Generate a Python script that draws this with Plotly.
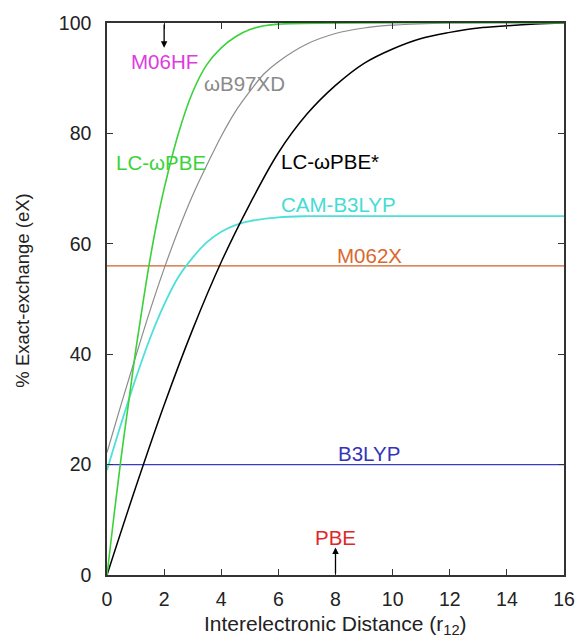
import plotly.graph_objects as go

# ---- data ----
lc_wpbe_x = [0, 0.25, 0.5, 0.75, 1, 1.25, 1.5, 1.75, 2, 2.5, 3, 3.5, 4, 4.5, 5, 5.5, 6, 16]
lc_wpbe_y = [0, 11, 21.5, 31, 40.5, 49, 57, 64, 70, 80, 87.5, 92.5, 95.5, 97.5, 98.8, 99.5, 99.8, 100]

wb97xd_x = [0, 0.5, 1, 1.5, 2, 2.5, 3, 3.5, 4, 4.5, 5, 5.5, 6, 7, 8, 9, 10, 12, 16]
wb97xd_y = [22.2, 31, 39.5, 47.8, 55.5, 62.5, 68.8, 74.3, 79.5, 84, 87.6, 90.8, 93, 96.2, 98.1, 99.1, 99.6, 100, 100]

lc_wpbe_star_x = [0, 1, 2, 3, 4, 5, 6, 7, 8, 9, 10, 11, 12, 13, 14, 15, 16]
lc_wpbe_star_y = [0, 15.8, 30.8, 44.5, 56.7, 67.2, 76.5, 83.5, 88.7, 92.7, 95.3, 97.2, 98.3, 99.1, 99.5, 99.8, 100]

cam_b3lyp_x = [0, 0.5, 1, 1.5, 2, 2.5, 3, 3.5, 4, 4.5, 5, 6, 7, 8, 16]
cam_b3lyp_y = [19, 27.5, 35.5, 42.8, 49, 54, 57.5, 60.3, 62.2, 63.4, 64.1, 64.8, 65, 65, 65]

m062x_x = [0, 16]
m062x_y = [56, 56]

b3lyp_x = [0, 16]
b3lyp_y = [20, 20]

# labels: text, x, y, colour
label_text = ["M06HF", "ωB97XD", "LC-ωPBE", "LC-ωPBE*", "CAM-B3LYP", "M062X", "B3LYP", "PBE"]
label_x = [2.0, 4.83, 1.9, 7.8, 8.1, 9.2, 9.16, 8.0]
label_y = [93, 89, 74.8, 74.9, 67.1, 57.8, 22, 6.8]
label_col = ["#e03ae0", "#8a8a8a", "#3cd23c", "#000000", "#45dcd5", "#d9692e", "#3434b8", "#e02828"]

# arrows: (head x, head y, tail y)
m06hf_arrow = (2, 95.5, 100)
pbe_arrow = (8, 5, 0)

x_ticks = [0, 2, 4, 6, 8, 10, 12, 14, 16]
y_ticks = [0, 20, 40, 60, 80, 100]

FONT = "Liberation Sans, Arial, sans-serif"

fig = go.Figure()

def add_line(x, y, color, width, shape="spline"):
    fig.add_trace(go.Scatter(x=x, y=y, mode="lines",
                             line=dict(color=color, width=width, shape=shape),
                             showlegend=False, hoverinfo="skip"))

add_line(m062x_x, m062x_y, "#d2602a", 1.3, "linear")
add_line(b3lyp_x, b3lyp_y, "#3a3ac8", 1.3, "linear")
add_line(cam_b3lyp_x, cam_b3lyp_y, "#4ee0d8", 1.8)
add_line(wb97xd_x, wb97xd_y, "#8c8c8c", 1.2)
add_line(lc_wpbe_star_x, lc_wpbe_star_y, "#000000", 1.5)
add_line(lc_wpbe_x, lc_wpbe_y, "#3ad13a", 1.6)

annotations = []
for t, x, y, c in zip(label_text, label_x, label_y, label_col):
    annotations.append(dict(x=x, y=y, xref="x", yref="y", text=t, showarrow=False,
                            font=dict(family=FONT, size=20.5, color=c),
                            xanchor="center", yanchor="middle"))

for hx, hy, ty in (m06hf_arrow, pbe_arrow):
    annotations.append(dict(x=hx, y=hy, ax=hx, ay=ty, xref="x", yref="y",
                            axref="x", ayref="y", text="", showarrow=True,
                            arrowhead=2, arrowsize=1, arrowwidth=1.3,
                            arrowcolor="#000000"))

annotations.append(dict(x=0.501, y=-0.09, xref="paper", yref="paper",
                        text="Interelectronic Distance (r<sub>12</sub>)",
                        showarrow=False, xanchor="center", yanchor="middle",
                        font=dict(family=FONT, size=21, color="#222222")))
annotations.append(dict(x=-0.184, y=0.515, xref="paper", yref="paper",
                        text="% Exact-exchange (eX)", textangle=-90,
                        showarrow=False, xanchor="center", yanchor="middle",
                        font=dict(family=FONT, size=18.5, color="#222222")))

axis_common = dict(showgrid=False, zeroline=False, showline=True, mirror="ticks",
                   linecolor="#333333", linewidth=1.5, ticks="inside", ticklen=6,
                   tickwidth=1.2, tickcolor="#333333",
                   tickfont=dict(family=FONT, size=19.5, color="#222222"))

fig.update_layout(
    width=587, height=638,
    margin=dict(l=107, r=16, t=21, b=63),
    paper_bgcolor="white", plot_bgcolor="white",
    xaxis=dict(range=[0, 16], tickvals=x_ticks, ticklabelstandoff=6, **axis_common),
    yaxis=dict(range=[0, 100], tickvals=y_ticks, ticklabelstandoff=10, **axis_common),
    annotations=annotations,
)

fig.write_html("out.html")
